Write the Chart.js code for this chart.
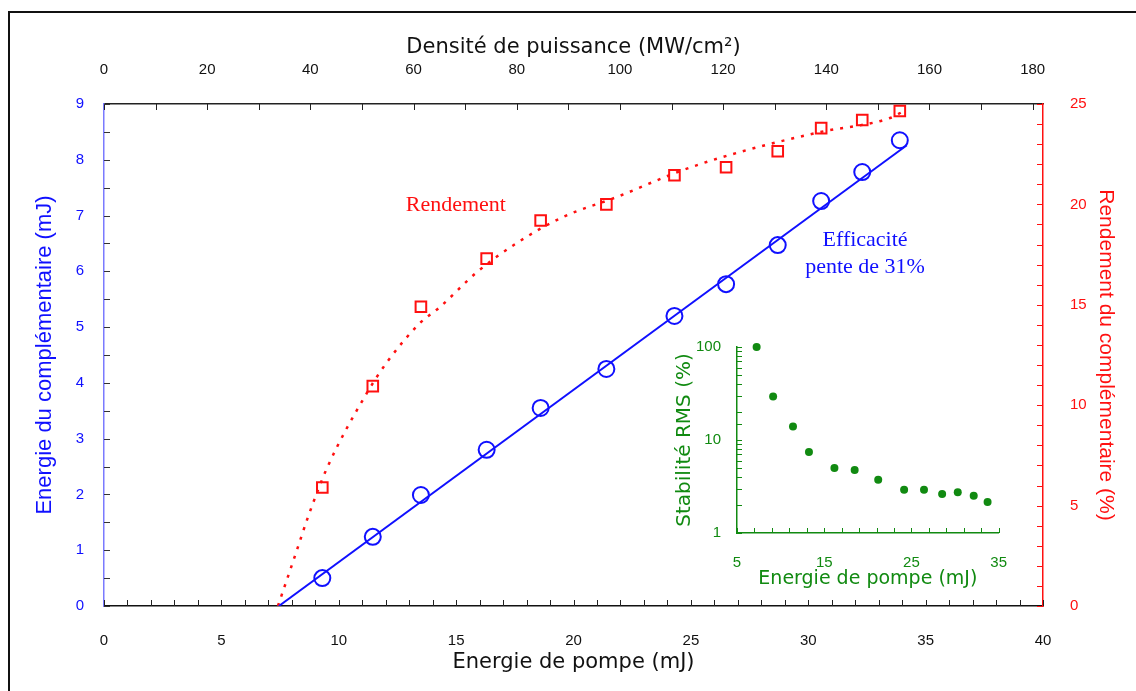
<!DOCTYPE html>
<html>
<head>
<meta charset="utf-8">
<script src="https://cdn.jsdelivr.net/npm/chart.js@4.4.1/dist/chart.umd.min.js"></script>
<style>
  body { margin: 0; background: #fff; }
  #wrap { position: relative; width: 1136px; height: 691px; overflow: hidden; background: #fff; }
  #frame { position: absolute; left: 8px; top: 11px; width: 1300px; height: 900px;
           border-top: 2px solid #111; border-left: 2px solid #111; }
  #main { position: absolute; left: 0; top: 0; }
  #inset { position: absolute; left: 660px; top: 330px; }
</style>
</head>
<body>
<div id="wrap">
  <div id="frame"></div>
  <canvas id="main" width="1136" height="691"></canvas>
  <canvas id="inset" width="360" height="270"></canvas>
</div>
<script>
// pump energy (mJ) for the measured points
const pumpE = [9.3, 11.45, 13.5, 16.3, 18.6, 21.4, 24.3, 26.5, 28.7, 30.55, 32.3, 33.9];
// complementary energy (mJ) - blue circles
const compE = [0.5, 1.24, 1.99, 2.8, 3.55, 4.25, 5.2, 5.77, 6.47, 7.26, 7.78, 8.35];
// efficiency (%) - red squares
const rendement = [5.9, 10.95, 14.9, 17.3, 19.2, 20.0, 21.45, 21.85, 22.65, 23.8, 24.2, 24.65];

// linear fit (slope 31 %)
const fitE = [7.45, 34.2];
const fitC = [0, 8.26];

// dotted trend through the efficiency points
const trendE = [7.41, 8.22, 8.69, 9.5, 11.2, 12.06, 13.46, 14.31, 15.89, 17.59, 19.55, 21.85, 24.66, 27.09, 30.5, 33.48, 34.0];
const trendR = [0, 2.79, 4.43, 6.87, 10.61, 12.15, 14.09, 14.89, 16.63, 18.08, 19.37, 20.37, 21.71, 22.61, 23.6, 24.3, 24.6];

// top axis ticks (MW/cm²)
const topTicks = [0, 10, 20, 30, 40, 50, 60, 70, 80, 90, 100, 110, 120, 130, 140, 150, 160, 170, 180];

// inset: RMS stability (%) vs pump energy
const stabE = [7.25, 9.14, 11.42, 13.25, 16.17, 18.49, 21.19, 24.16, 26.44, 28.52, 30.31, 32.14, 33.73];
const stabV = [100, 29.4, 14.0, 7.45, 5.0, 4.76, 3.73, 2.92, 2.92, 2.62, 2.75, 2.52, 2.15];

const BLUE = '#1010ff';
const RED = '#ff1010';
const GREEN = '#118a11';
const narrow = "'Liberation Sans Narrow', 'Liberation Sans', Arial, sans-serif";
const comic = "'DejaVu Sans', sans-serif";
const sans = "'Liberation Sans', Arial, sans-serif";
const serif = "'Liberation Serif', 'Times New Roman', serif";

const pts = (xs, ys) => xs.map((x, i) => ({ x: x, y: ys[i] }));

// ticks pointing inside the plot area
const inTicks = {
  id: 'inTicks',
  afterDraw(chart, args, opts) {
    const ctx = chart.ctx;
    ctx.save();
    Object.keys(opts.axes || {}).forEach(id => {
      const s = chart.scales[id];
      const o = opts.axes[id];
      if (!s) return;
      ctx.strokeStyle = o.color;
      ctx.lineWidth = 1;
      ctx.beginPath();
      s.ticks.forEach(t => {
        const p = Math.round(s.getPixelForValue(t.value)) + 0.5;
        const len = o.len;
        if (s.position === 'bottom') { ctx.moveTo(p, s.top); ctx.lineTo(p, s.top - len); }
        else if (s.position === 'top') { ctx.moveTo(p, s.bottom); ctx.lineTo(p, s.bottom + len); }
        else if (s.position === 'left') { ctx.moveTo(s.right, p); ctx.lineTo(s.right + len, p); }
        else { ctx.moveTo(s.left, p); ctx.lineTo(s.left - len, p); }
      });
      ctx.stroke();
    });
    ctx.restore();
  }
};

// text labels placed in data coordinates
const notes = {
  id: 'notes',
  afterDatasetsDraw(chart, args, opts) {
    const ctx = chart.ctx;
    ctx.save();
    ctx.textAlign = 'center';
    ctx.textBaseline = 'middle';
    (opts.items || []).forEach(n => {
      ctx.fillStyle = n.color;
      ctx.font = n.font;
      ctx.fillText(n.text, chart.scales.x.getPixelForValue(n.x), chart.scales.y.getPixelForValue(n.y));
    });
    ctx.restore();
  }
};

new Chart(document.getElementById('main'), {
  type: 'scatter',
  data: {
    datasets: [
      {
        label: 'fit',
        data: pts(fitE, fitC),
        showLine: true,
        borderColor: BLUE,
        borderWidth: 2,
        pointRadius: 0,
        xAxisID: 'x', yAxisID: 'y'
      },
      {
        label: 'Energie',
        data: pts(pumpE, compE),
        showLine: false,
        pointStyle: 'circle',
        pointRadius: 8,
        pointBorderWidth: 2,
        borderColor: BLUE,
        backgroundColor: 'rgba(0,0,0,0)',
        xAxisID: 'x', yAxisID: 'y'
      },
      {
        label: 'trend',
        data: pts(trendE, trendR),
        showLine: true,
        cubicInterpolationMode: 'monotone',
        borderColor: RED,
        borderWidth: 2.5,
        borderDash: [3, 7],
        pointRadius: 0,
        xAxisID: 'x', yAxisID: 'y2'
      },
      {
        label: 'Rendement',
        data: pts(pumpE, rendement),
        showLine: false,
        pointStyle: 'rect',
        pointRadius: 7.5,
        pointBorderWidth: 2,
        borderColor: RED,
        backgroundColor: 'rgba(0,0,0,0)',
        clip: false,
        xAxisID: 'x', yAxisID: 'y2'
      }
    ]
  },
  options: {
    responsive: false,
    animation: false,
    devicePixelRatio: 1,
    layout: { padding: { left: 12, top: 12, right: 0, bottom: 0 } },
    plugins: {
      legend: { display: false },
      tooltip: { enabled: false },
      inTicks: {
        axes: {
          x: { len: 6, color: '#222' },
          x2: { len: 6, color: '#222' },
          y: { len: 6, color: '#333' },
          y2: { len: 6, color: RED }
        }
      },
      notes: {
        items: [
          { text: 'Rendement', x: 14.99, y: 7.19, color: RED, font: '22px ' + serif },
          { text: 'Efficacité', x: 32.42, y: 6.56, color: BLUE, font: '22px ' + serif },
          { text: 'pente de 31%', x: 32.42, y: 6.08, color: BLUE, font: '22px ' + serif }
        ]
      }
    },
    scales: {
      x: {
        type: 'linear',
        position: 'bottom',
        min: 0, max: 40,
        afterFit: s => { s.height = 85; },
        grid: { display: false },
        border: { display: true, color: '#111', width: 1.5 },
        ticks: {
          stepSize: 1, autoSkip: false, maxRotation: 0, padding: 18,
          color: '#111', font: { family: narrow, size: 15 },
          callback: v => (v % 5 === 0 ? v : '')
        },
        title: {
          display: true, text: 'Energie de pompe (mJ)', color: '#111',
          font: { family: comic, size: 21 }, padding: { top: 0, bottom: 16 }
        }
      },
      x2: {
        type: 'linear',
        position: 'top',
        min: 0, max: 182,
        afterFit: s => { s.height = 92; },
        afterBuildTicks: s => { s.ticks = topTicks.map(v => ({ value: v })); },
        grid: { display: false },
        border: { display: true, color: '#222', width: 1.5 },
        ticks: {
          autoSkip: false, maxRotation: 0, padding: 17,
          color: '#111', font: { family: narrow, size: 15 },
          callback: v => (v % 20 === 0 ? v : '')
        },
        title: {
          display: true, text: 'Densité de puissance (MW/cm²)', color: '#111',
          font: { family: comic, size: 21 }, padding: { top: 23, bottom: 0 }
        }
      },
      y: {
        type: 'linear',
        position: 'left',
        min: 0, max: 9,
        afterFit: s => { s.width = 92; },
        grid: { display: false },
        border: { display: true, color: '#7a7aff', width: 1.5 },
        ticks: {
          stepSize: 0.5, autoSkip: false, padding: 12,
          color: BLUE, font: { family: narrow, size: 15 },
          callback: v => (Number.isInteger(v) ? v : '')
        },
        title: {
          display: true, text: 'Energie du complémentaire (mJ)', color: BLUE,
          font: { family: sans, size: 22 }, padding: { top: 20, bottom: 0 }
        }
      },
      y2: {
        type: 'linear',
        position: 'right',
        min: 0, max: 25,
        afterFit: s => { s.width = 93; },
        grid: { display: false },
        border: { display: true, color: RED, width: 1.5 },
        ticks: {
          stepSize: 1, autoSkip: false, padding: 19,
          color: RED, font: { family: narrow, size: 15 },
          callback: v => (v % 5 === 0 ? v : '')
        },
        title: {
          display: true, text: 'Rendement du complémentaire (%)', color: RED,
          font: { family: sans, size: 21 }, padding: { top: 18, bottom: 0 }
        }
      }
    }
  },
  plugins: [inTicks, notes]
});

new Chart(document.getElementById('inset'), {
  type: 'scatter',
  data: {
    datasets: [{
      label: 'Stabilité',
      data: pts(stabE, stabV),
      pointRadius: 4,
      pointBorderWidth: 0,
      backgroundColor: GREEN,
      borderColor: GREEN,
      clip: false
    }]
  },
  options: {
    responsive: false,
    animation: false,
    devicePixelRatio: 1,
    layout: { padding: { left: 0, top: 15, right: 20, bottom: 0 } },
    plugins: {
      legend: { display: false },
      tooltip: { enabled: false },
      inTicks: {
        axes: {
          x: { len: 5, color: GREEN },
          y: { len: 5, color: GREEN }
        }
      }
    },
    scales: {
      x: {
        type: 'linear',
        position: 'bottom',
        min: 5, max: 35,
        afterFit: s => { s.height = 67; },
        grid: { display: false },
        border: { display: true, color: GREEN, width: 1.5 },
        ticks: {
          stepSize: 2, autoSkip: false, maxRotation: 0, padding: 13,
          color: GREEN, font: { family: narrow, size: 15 },
          callback: v => ((v - 5) % 10 === 0 ? v : '')
        },
        title: {
          display: true, text: 'Energie de pompe (mJ)', color: GREEN,
          font: { family: comic, size: 19 }, padding: { top: 0, bottom: 10 }
        }
      },
      y: {
        type: 'logarithmic',
        position: 'left',
        min: 1, max: 100,
        afterFit: s => { s.width = 77; },
        grid: { display: false },
        border: { display: true, color: GREEN, width: 1.5 },
        ticks: {
          autoSkip: false, padding: 8,
          color: GREEN, font: { family: narrow, size: 15 },
          callback: v => ([1, 10, 100].includes(v) ? v : '')
        },
        title: {
          display: true, text: 'Stabilité RMS (%)', color: GREEN,
          font: { family: comic, size: 20 }, padding: { top: 13, bottom: 0 }
        }
      }
    }
  },
  plugins: [inTicks]
});
</script>
</body>
</html>
